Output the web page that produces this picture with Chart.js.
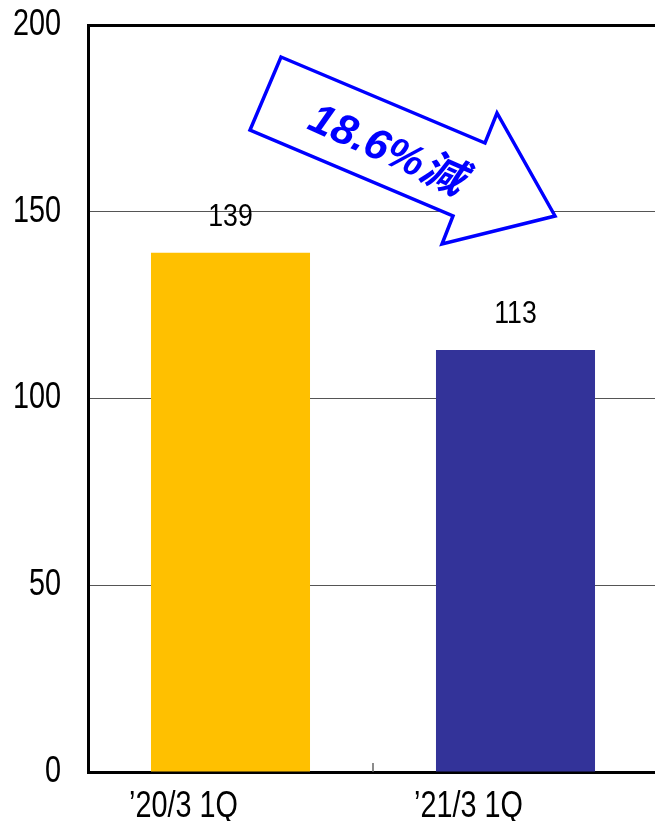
<!DOCTYPE html>
<html>
<head>
  <meta charset="utf-8">
  <title>1Q comparison</title>
  <script src="https://cdn.jsdelivr.net/npm/chart.js"></script>
  <style>
    html, body { margin: 0; padding: 0; background: #fff; overflow: hidden; }
    #wrap { position: absolute; left: 0; top: 0; width: 662px; height: 821px; }
  </style>
</head>
<body>
  <div id="wrap"><canvas id="chart"></canvas></div>
  <script>
    const categories = ["’20/3 1Q", "’21/3 1Q"];
    const values = [139, 113];
    const barColors = ["#FFC000", "#333399"];
    const yTicks = [0, 50, 100, 150, 200];
    const changeText = "18.6%減";

    const sans = "'Liberation Sans', Arial, 'Noto Sans CJK JP', sans-serif";

    // narrow text: the original uses a condensed gothic, so squeeze horizontally
    function narrowText(ctx, text, x, y, size, squeeze, align) {
      ctx.save();
      ctx.font = size + "px " + sans;
      ctx.textAlign = align;
      ctx.textBaseline = "middle";
      ctx.translate(x, y);
      ctx.scale(squeeze, 1);
      ctx.fillText(text, 0, 0);
      ctx.restore();
    }

    const extras = {
      id: "extras",
      afterDraw(chart) {
        const ctx = chart.ctx;
        const xs = chart.scales.x;
        const ys = chart.scales.y;
        ctx.save();
        ctx.fillStyle = "#000";

        // y tick labels
        ys.ticks.forEach(t => {
          narrowText(ctx, String(t.value), 61, ys.getPixelForValue(t.value), 36, 0.8, "right");
        });
        // x tick labels (sit left of the bar centre in the original)
        categories.forEach((c, i) => {
          narrowText(ctx, c, xs.getPixelForValue(i) - 47, 807, 36, 0.8, "center");
        });
        // values above bars
        chart.getDatasetMeta(0).data.forEach((bar, i) => {
          narrowText(ctx, String(values[i]), bar.x, bar.y - 35, 31, 0.86, "center");
        });

        // small tick between categories on the x axis
        const mid = (xs.getPixelForValue(0) + xs.getPixelForValue(1)) / 2;
        ctx.strokeStyle = "#666";
        ctx.lineWidth = 1.5;
        ctx.beginPath();
        ctx.moveTo(mid, xs.top - 9);
        ctx.lineTo(mid, xs.top);
        ctx.stroke();

        // arrow callout
        const pts = [[281, 57], [485, 143], [497, 113], [555, 216], [442, 244], [453, 216], [250, 130]];
        ctx.beginPath();
        pts.forEach((p, i) => (i ? ctx.lineTo(p[0], p[1]) : ctx.moveTo(p[0], p[1])));
        ctx.closePath();
        ctx.fillStyle = "#fff";
        ctx.fill();
        ctx.strokeStyle = "#0000FF";
        ctx.lineWidth = 3.5;
        ctx.stroke();

        ctx.translate(386, 151);
        ctx.rotate(24 * Math.PI / 180);
        ctx.fillStyle = "#0000FF";
        ctx.font = "italic bold 43px " + sans;
        ctx.textAlign = "center";
        ctx.textBaseline = "middle";
        ctx.fillText(changeText, 0, 0);
        ctx.restore();
      }
    };

    new Chart(document.getElementById("chart"), {
      type: "bar",
      data: {
        labels: categories,
        datasets: [{ data: values, backgroundColor: barColors, barPercentage: 0.558, categoryPercentage: 1 }]
      },
      options: {
        responsive: true,
        maintainAspectRatio: false,
        animation: false,
        layout: { padding: { top: 25, right: 4, bottom: 0, left: 0 } },
        plugins: { legend: { display: false }, tooltip: { enabled: false } },
        scales: {
          x: {
            offset: true,
            grid: { display: false, drawTicks: false },
            border: { display: true, color: "#000", width: 3 },
            ticks: { display: false },
            afterFit: s => { s.height = 49; }
          },
          y: {
            min: 0,
            max: 200,
            afterBuildTicks: s => { s.ticks = yTicks.map(v => ({ value: v })); },
            grid: {
              drawTicks: false,
              color: c => (c.tick && c.tick.value === 200 ? "#000" : "#555"),
              lineWidth: c => (c.tick && c.tick.value === 200 ? 3 : 1)
            },
            border: { display: true, color: "#000", width: 3 },
            ticks: { display: false },
            afterFit: s => { s.width = 88; }
          }
        }
      },
      plugins: [extras]
    });
  </script>
</body>
</html>
